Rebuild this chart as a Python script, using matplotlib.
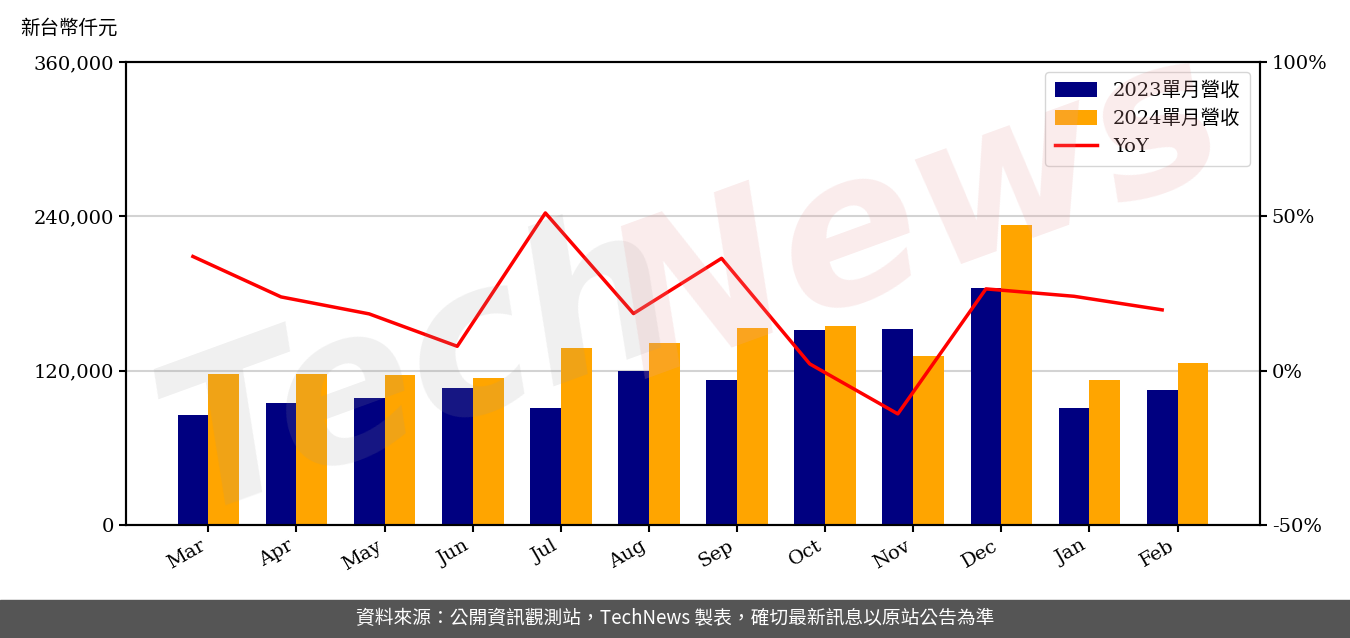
import numpy as np
import matplotlib.pyplot as plt
from matplotlib.ticker import FuncFormatter

plt.rcParams['font.family'] = ['DejaVu Serif', 'Noto Sans CJK TC']

months = ['Mar', 'Apr', 'May', 'Jun', 'Jul', 'Aug', 'Sep', 'Oct', 'Nov', 'Dec', 'Jan', 'Feb']
rev_2023 = [85500, 94900, 98700, 106500, 91000, 119700, 112700, 151600, 152400, 184300, 91000, 105000]
rev_2024 = [117400, 117400, 116600, 114300, 137600, 141500, 153200, 154700, 131400, 233300, 112700, 126000]
yoy = [37.0, 23.9, 18.4, 7.9, 51.1, 18.5, 36.4, 2.2, -14.0, 26.5, 24.1, 19.7]

ind = np.arange(len(months))
width = 0.35

fig = plt.figure(figsize=(13.5, 6.38), dpi=100)
ax = fig.add_axes([0.0933, 0.1771, 0.84, 0.7257])
ax2 = ax.twinx()

b1 = ax.bar(ind, rev_2023, width, color='#000080', zorder=2)
b2 = ax.bar(ind + width, rev_2024, width, color='#FFA500', zorder=2)
ax.set_ylim(0, 360000)
ax.set_yticks([0, 120000, 240000, 360000])
ax.yaxis.set_major_formatter(FuncFormatter(lambda v, p: '{:,.0f}'.format(v)))
ax.grid(axis='y', color='#d3d3d3', linewidth=1.5, zorder=0)
ax.set_xticks(ind + width / 2)
ax.set_xticklabels(months, rotation=30, ha='right')
ax.tick_params(labelsize=14, width=1.5, length=5)
for s in ax.spines.values():
    s.set_linewidth(1.5)

l1, = ax2.plot(ind, yoy, color='red', linewidth=2.5)
ax2.set_ylim(-50, 100)
ax2.set_yticks([-50, 0, 50, 100])
ax2.yaxis.set_major_formatter(FuncFormatter(lambda v, p: '%d%%' % v))
ax2.tick_params(labelsize=14, width=1.5, length=5)
for s in ax2.spines.values():
    s.set_linewidth(1.5)

ax2.legend([b1, b2, l1], ['2023單月營收', '2024單月營收', 'YoY'], loc='upper right',
           fontsize=14, handlelength=2.2, handleheight=0.8, borderpad=0.5, labelspacing=0.5)

fig.text(0.015, 0.955, '新台幣仟元', fontsize=14, ha='left', va='center')

# watermark
fig.text(0.31, 0.42, 'Tech', fontsize=150, fontweight='bold', fontstyle='italic',
         family='DejaVu Sans', color='#999999', alpha=0.15, rotation=20,
         ha='center', va='center', zorder=10)
fig.text(0.68, 0.66, 'News', fontsize=150, fontweight='bold', fontstyle='italic',
         family='DejaVu Sans', color='#e8a0a0', alpha=0.2, rotation=20,
         ha='center', va='center', zorder=10)

# footer band
fig.patches.append(plt.Rectangle((0, 0), 1, 38 / 638, transform=fig.transFigure,
                                 color='#555555', zorder=0))
fig.text(0.5, 19 / 638, '資料來源：公開資訊觀測站，TechNews 製表，確切最新訊息以原站公告為準',
         family=['Noto Sans CJK TC', 'DejaVu Sans'], fontsize=13.5, color='white',
         ha='center', va='center')

fig.savefig('out.png', dpi=100)
